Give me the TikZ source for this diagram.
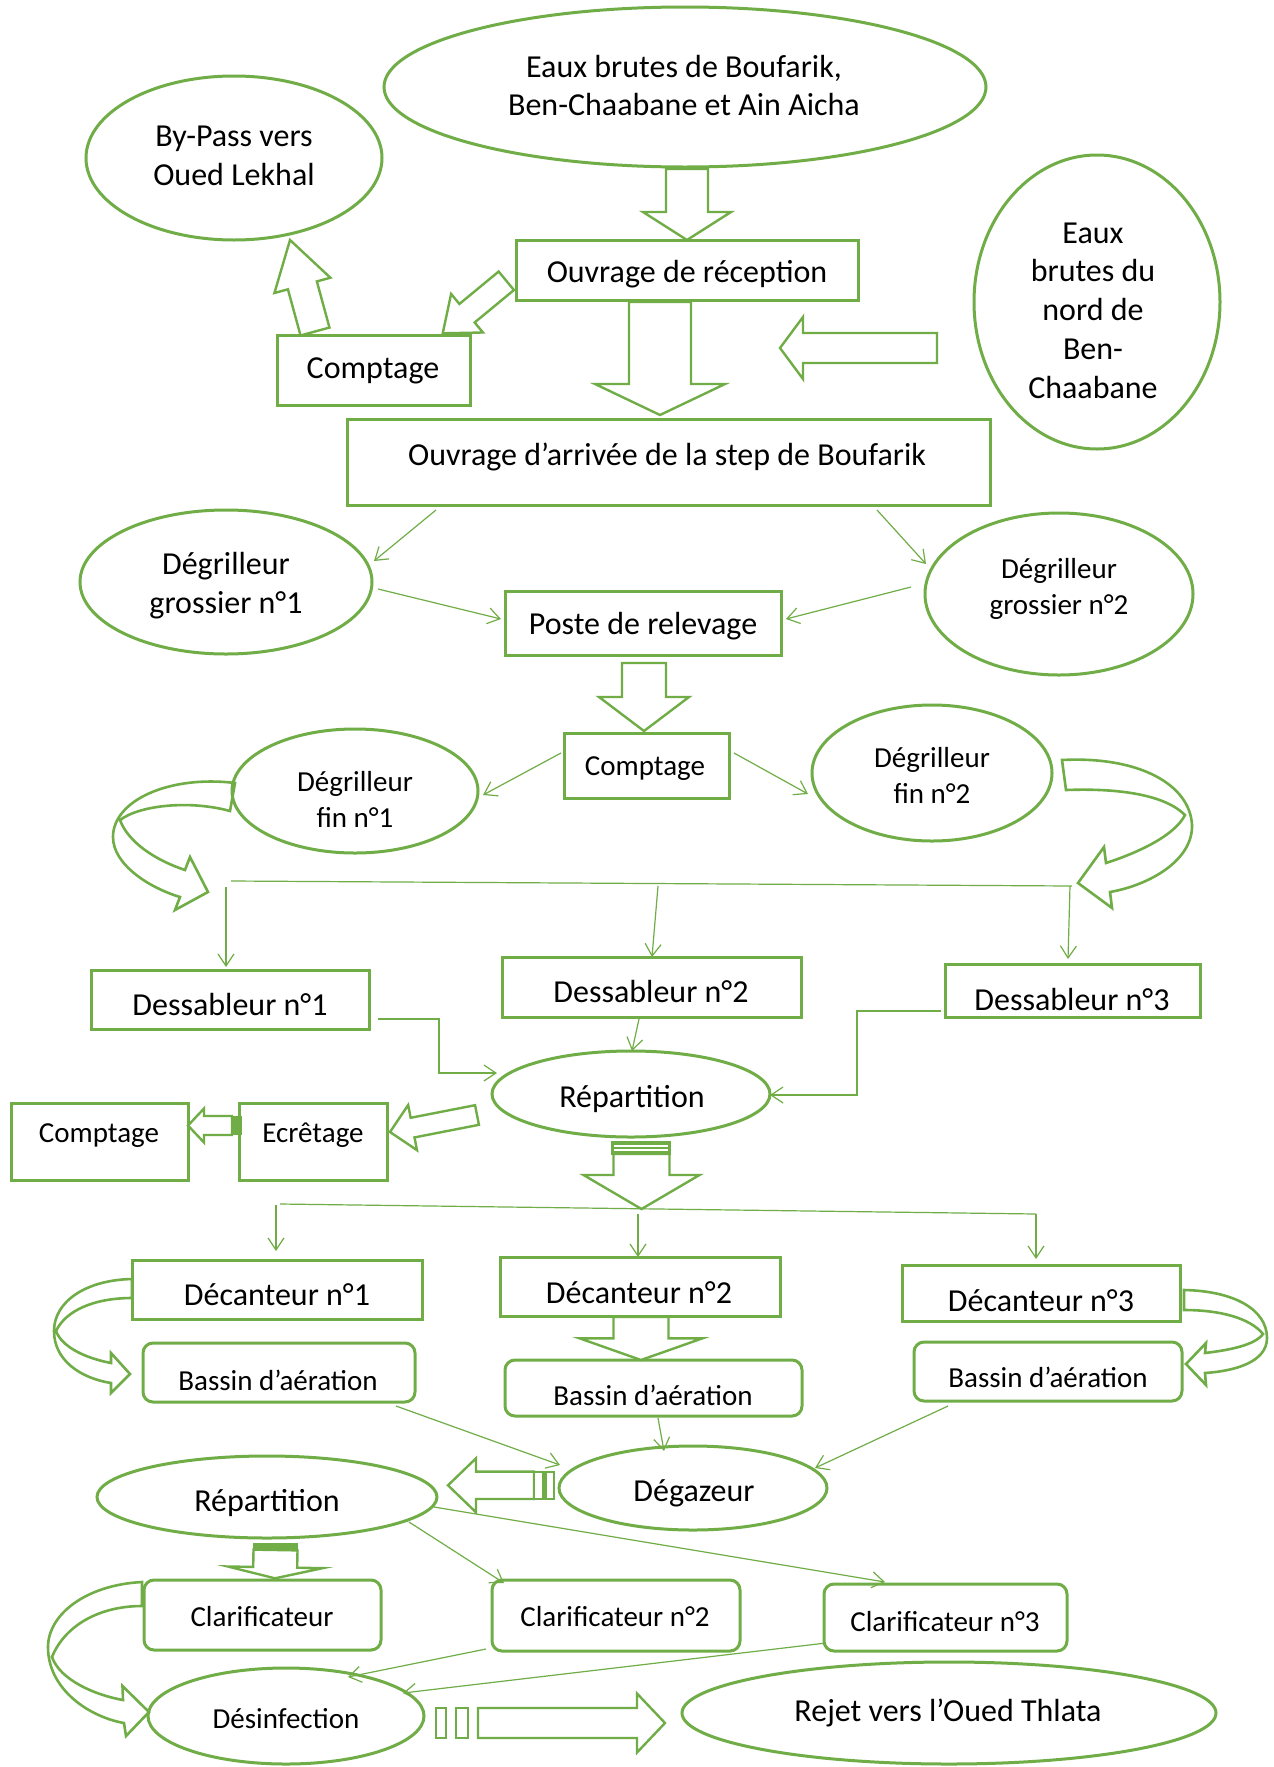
\documentclass[tikz,border=0pt]{standalone}
\usepackage{fontspec}
\setmainfont{Carlito}
\usetikzlibrary{shapes.geometric,arrows.meta}
\definecolor{ogreen}{RGB}{112,173,71}
\tikzset{
 shapeline/.style={draw=ogreen, line width=1.5pt, inner sep=0pt},
 boxn/.style={shapeline, rectangle},
 rboxn/.style={shapeline, rectangle, rounded corners=5pt},
 elln/.style={shapeline, ellipse},
 blockarrow/.style={draw=ogreen, line width=1.2pt, fill=white, line join=miter},
 curvearrow/.style={draw=ogreen, line width=1.3pt, line join=miter},
 conn/.style={draw=ogreen, line width=0.6pt, -{Straight Barb[length=6pt,width=8pt]}},
 plainline/.style={draw=ogreen, line width=0.6pt},
 bigtxt/.style={font=\fontsize{16}{19.4}\selectfont, align=center, inner sep=0pt, yshift=-1.8pt},
 smalltxt/.style={font=\fontsize{14.5}{18}\selectfont, align=center, inner sep=0pt, yshift=-1.8pt},
}
% ellipse node: style, name, cx, cy, rx, ry (pixels)
\newcommand\ellnode[6]{\node[#1,minimum width=#5pt,minimum height=#6pt] (#2) at (#3,#4) {};}
% rectangle node: style, name, x1, y1, x2, y2 (pixels)
\newcommand\recnode[6]{%
 \pgfmathsetmacro\rcx{(#3+#5)/2}\pgfmathsetmacro\rcy{(#4+#6)/2}%
 \pgfmathsetmacro\rcw{(#5-#3)/2}\pgfmathsetmacro\rch{(#6-#4)/2}%
 \node[#1,minimum width=\rcw pt,minimum height=\rch pt] (#2) at (\rcx,\rcy) {};}
% block arrow: x1,y1 (tail centre), x2,y2 (tip), shaft half width, head half width, head length
\newcommand\barrow[7]{%
 \pgfmathsetmacro\baang{atan2(-(#4-#2),#3-#1)}%
 \pgfmathsetmacro\balen{veclen(#3-#1,#4-#2)}%
 \pgfmathsetmacro\babase{\balen-#7}%
 \begin{scope}[shift={(#1,#2)},rotate=\baang]
  \draw[blockarrow] (0,-#5) -- (\babase,-#5) -- (\babase,-#6) -- (\balen,0) -- (\babase,#6) -- (\babase,#5) -- (0,#5) -- cycle;
 \end{scope}}
\begin{document}
\begin{tikzpicture}[x=0.5pt,y=-0.5pt]
\useasboundingbox (0,0) rectangle (1274,1767);
\fill[white] (0,0) rectangle (1274,1767);

% ---------- shapes ----------
\ellnode{elln}{e1}{685}{87}{301}{80}
\ellnode{elln}{e2}{234}{158}{148}{82}
\recnode{boxn}{r1}{516}{240}{858}{300}
\ellnode{elln}{e3}{1097}{302}{123}{147}
\recnode{boxn}{r2}{277}{335}{470}{405}
\recnode{boxn}{r3}{347}{419}{990}{505}
\ellnode{elln}{e4}{226}{582}{146}{72}
\ellnode{elln}{e5}{1059}{594}{134}{81}
\recnode{boxn}{r4}{505}{591}{781}{655}
\recnode{boxn}{r5}{564}{733}{729}{798}
\ellnode{elln}{e6}{355}{791}{123}{62}
\ellnode{elln}{e7}{932}{773}{120}{68}
\recnode{boxn}{r6}{91}{970}{369}{1029}
\recnode{boxn}{r7}{502}{957}{801}{1017}
\recnode{boxn}{r8}{945}{964}{1200}{1017}
\ellnode{elln}{e8}{631}{1094}{139}{43}
\recnode{boxn}{r9}{239}{1103}{387}{1180}
\recnode{boxn}{r10}{11}{1103}{188}{1180}
\recnode{boxn}{r11}{132}{1260}{422}{1319}
\recnode{boxn}{r12}{500}{1257}{780}{1316}
\recnode{boxn}{r13}{902}{1265}{1180}{1321}
\recnode{rboxn}{rr1}{143}{1343}{415}{1402}
\recnode{rboxn}{rr2}{505}{1360}{802}{1416}
\recnode{rboxn}{rr3}{914}{1342}{1182}{1401}
\ellnode{elln}{e9}{693}{1488}{134}{42}
\ellnode{elln}{e10}{267}{1497}{170}{41}
\recnode{rboxn}{rr4}{144}{1580}{381}{1650}
\recnode{rboxn}{rr5}{492}{1580}{740}{1651}
\recnode{rboxn}{rr6}{824}{1584}{1067}{1651}
\ellnode{elln}{e11}{286}{1716}{138}{48}
\ellnode{elln}{e12}{949}{1713}{267}{51}

% ---------- texts ----------
\node[bigtxt] (t1) at (684,82) {Eaux brutes de Boufarik,\\Ben-Chaabane et Ain Aicha};
\node[bigtxt] (t2) at (234,152) {By-Pass vers\\Oued Lekhal};
\node[bigtxt] (t3) at (687,271) {Ouvrage de réception};
\node[bigtxt] (t4) at (1093,307) {Eaux\\brutes du\\nord de\\Ben-\\Chaabane};
\node[bigtxt] (t5) at (373,367) {Comptage};
\node[bigtxt] (t6) at (667,453) {Ouvrage d’arrivée de la step de Boufarik};
\node[bigtxt] (t7) at (226,582) {Dégrilleur\\grossier n°1};
\node[smalltxt] (t8) at (1059,585) {Dégrilleur\\grossier n°2};
\node[bigtxt] (t9) at (643,623) {Poste de relevage};
\node[smalltxt] (t10) at (645,765) {Comptage};
\node[smalltxt] (t11) at (355,796) {Dégrilleur\\fin n°1};
\node[smalltxt] (t12) at (932,772) {Dégrilleur\\fin n°2};
\node[bigtxt] (t13) at (230,1001) {Dessableur n°1};
\node[bigtxt] (t14) at (651,988) {Dessableur n°2};
\node[bigtxt] (t15) at (1072,996) {Dessableur n°3};
\node[bigtxt] (t16) at (632,1095) {Répartition};
\node[smalltxt] (t17) at (313,1132) {Ecrêtage};
\node[smalltxt] (t18) at (99,1132) {Comptage};
\node[bigtxt] (t19) at (277,1291) {Décanteur n°1};
\node[bigtxt] (t20) at (639,1289) {Décanteur n°2};
\node[bigtxt] (t21) at (1041,1297) {Décanteur n°3};
\node[smalltxt] (t22) at (278,1377) {Bassin d’aération};
\node[smalltxt] (t23) at (653,1392) {Bassin d’aération};
\node[smalltxt] (t24) at (1048,1374) {Bassin d’aération};
\node[bigtxt] (t25) at (694,1490) {Dégazeur};
\node[bigtxt] (t26) at (267,1499) {Répartition};
\node[smalltxt] (t27) at (262,1613) {Clarificateur};
\node[smalltxt] (t28) at (615,1613) {Clarificateur n°2};
\node[smalltxt] (t29) at (945,1618) {Clarificateur n°3};
\node[smalltxt] (t30) at (286,1715) {Désinfection};
\node[bigtxt] (t31) at (948,1709) {Rejet vers l’Oued Thlata};

% ---------- block arrows ----------
\barrow{687}{169}{687}{240}{21}{44}{28}
\barrow{660}{302}{660}{415}{31}{65}{31}
\barrow{937}{348}{780}{348}{15}{31}{23}
\barrow{315}{331.5}{290}{240}{15}{29}{47}
\barrow{506.3}{280.8}{442.7}{333.3}{12}{25}{31.5}
\barrow{644}{663}{644}{731}{22}{45}{34}
\barrow{477}{1115}{390}{1132}{10}{23}{23}
\barrow{232}{1125.5}{188}{1125.5}{9.5}{17}{16}
\fill[ogreen] (232,1116) rectangle (242,1135);
\barrow{641.5}{1154}{641.5}{1209}{28}{58}{34}
\draw[ogreen, fill=ogreen, line width=0.8pt] (612,1142) rectangle (670,1154);
\draw[white, line width=0.7pt] (614,1146) -- (668,1146) (614,1150) -- (668,1150);
\barrow{641}{1317}{641}{1360}{27.5}{61.5}{21.7}
\barrow{534}{1485.3}{448}{1485.3}{13.7}{27}{28}
\draw[blockarrow] (534,1472) rectangle (543.5,1499) (545.5,1472) rectangle (554,1499);
\barrow{275.5}{1550}{275}{1578.3}{22}{47.5}{11}
\fill[ogreen] (253,1543) rectangle (298,1550);
\barrow{478}{1723}{665}{1723}{15}{29.5}{28}
\draw[blockarrow] (436,1708) rectangle (446,1738) (456,1708) rectangle (468,1738);

% ---------- curved arrows ----------
\draw[curvearrow] (235,783) .. controls (170,775) and (113,800) .. (113,837)
  .. controls (113,865) and (150,888) .. (180,897) -- (175,910) -- (208,892) -- (190,857) -- (185,870)
  .. controls (155,860) and (128,842) .. (120,820) .. controls (140,805) and (190,800) .. (230,811) -- cycle;
\draw[curvearrow] (1062,760) .. controls (1140,756) and (1190,785) .. (1192,825)
  .. controls (1193,860) and (1150,885) .. (1110,892) -- (1112,908) -- (1078,883) -- (1104,847) -- (1106,863)
  .. controls (1140,852) and (1175,835) .. (1185,815) .. controls (1165,795) and (1120,788) .. (1066,790) -- cycle;
\draw[curvearrow] (132,1279) .. controls (85,1280) and (54,1302) .. (54,1331)
  .. controls (54,1360) and (80,1378) .. (111,1383) -- (111,1393) -- (130,1374) -- (111,1353) -- (111,1363)
  .. controls (85,1358) and (62,1347) .. (56,1331) .. controls (66,1310) and (95,1298) .. (132,1298) -- cycle;
\draw[curvearrow] (1184,1290) .. controls (1235,1291) and (1267,1310) .. (1267,1338)
  .. controls (1267,1362) and (1235,1371) .. (1205,1373) -- (1206,1385) -- (1186,1364) -- (1206,1343) -- (1205,1353)
  .. controls (1230,1350) and (1255,1345) .. (1263,1334) .. controls (1250,1318) and (1220,1310) .. (1184,1310) -- cycle;
\draw[curvearrow] (142,1582) .. controls (85,1585) and (48,1615) .. (48,1647)
  .. controls (48,1690) and (90,1717) .. (124,1723) -- (126,1736) -- (149,1712) -- (122.5,1686) -- (123,1700)
  .. controls (95,1695) and (60,1680) .. (52,1657) .. controls (65,1625) and (100,1606) .. (142,1606) -- cycle;

% ---------- thin connectors ----------
\coordinate (c1a) at (436,510); \coordinate (c1b) at (374,561);
\coordinate (c2a) at (877,510); \coordinate (c2b) at (926,564);
\coordinate (c3a) at (378,589); \coordinate (c3b) at (501,619);
\coordinate (c4a) at (911,587); \coordinate (c4b) at (786,619);
\coordinate (c5a) at (561,753); \coordinate (c5b) at (483,795);
\coordinate (c6a) at (734,753); \coordinate (c6b) at (808,794);
\coordinate (l1a) at (231,881); \coordinate (l1b) at (1072,886);
\coordinate (c7a) at (226,887); \coordinate (c7b) at (226,967);
\coordinate (c8a) at (658,886); \coordinate (c8b) at (652,957);
\coordinate (c9a) at (1070,886); \coordinate (c9b) at (1068,959);
\coordinate (c10a) at (378,1019); \coordinate (c10b) at (497,1073);
\coordinate (c11a) at (639,1019); \coordinate (c11b) at (632,1051);
\coordinate (c12a) at (941,1011); \coordinate (c12b) at (770,1095);
\coordinate (l2a) at (280,1204); \coordinate (l2b) at (1036,1214);
\coordinate (c13a) at (276,1205); \coordinate (c13b) at (276,1251);
\coordinate (c14a) at (638,1214); \coordinate (c14b) at (638,1257);
\coordinate (c15a) at (1036,1214); \coordinate (c15b) at (1036,1259);
\coordinate (c16a) at (396,1406); \coordinate (c16b) at (560,1465);
\coordinate (c17a) at (658,1418); \coordinate (c17b) at (664,1451);
\coordinate (c18a) at (948,1406); \coordinate (c18b) at (815,1468);
\coordinate (c19a) at (409,1522); \coordinate (c19b) at (504,1583);
\coordinate (c20a) at (434,1507); \coordinate (c20b) at (885,1582);
\coordinate (c21a) at (486,1649); \coordinate (c21b) at (348,1677);
\coordinate (c22a) at (826,1643); \coordinate (c22b) at (403,1693);

\draw[conn] (c1a) -- (c1b);
\draw[conn] (c2a) -- (c2b);
\draw[conn] (c3a) -- (c3b);
\draw[conn] (c4a) -- (c4b);
\draw[conn] (c5a) -- (c5b);
\draw[conn] (c6a) -- (c6b);
\draw[plainline] (l1a) -- (l1b);
\draw[conn] (c7a) -- (c7b);
\draw[conn] (c8a) -- (c8b);
\draw[conn] (c9a) -- (c9b);
\draw[conn] (c10a) -- (439,1019) -- (439,1073) -- (c10b);
\draw[conn] (c11a) -- (c11b);
\draw[conn] (c12a) -- (857,1011) -- (857,1095) -- (c12b);
\draw[plainline] (l2a) -- (l2b);
\draw[conn] (c13a) -- (c13b);
\draw[conn] (c14a) -- (c14b);
\draw[conn] (c15a) -- (c15b);
\draw[conn] (c16a) -- (c16b);
\draw[conn] (c17a) -- (c17b);
\draw[conn] (c18a) -- (c18b);
\draw[conn] (c19a) -- (c19b);
\draw[conn] (c20a) -- (c20b);
\draw[conn] (c21a) -- (c21b);
\draw[conn] (c22a) -- (c22b);
\end{tikzpicture}
\end{document}
